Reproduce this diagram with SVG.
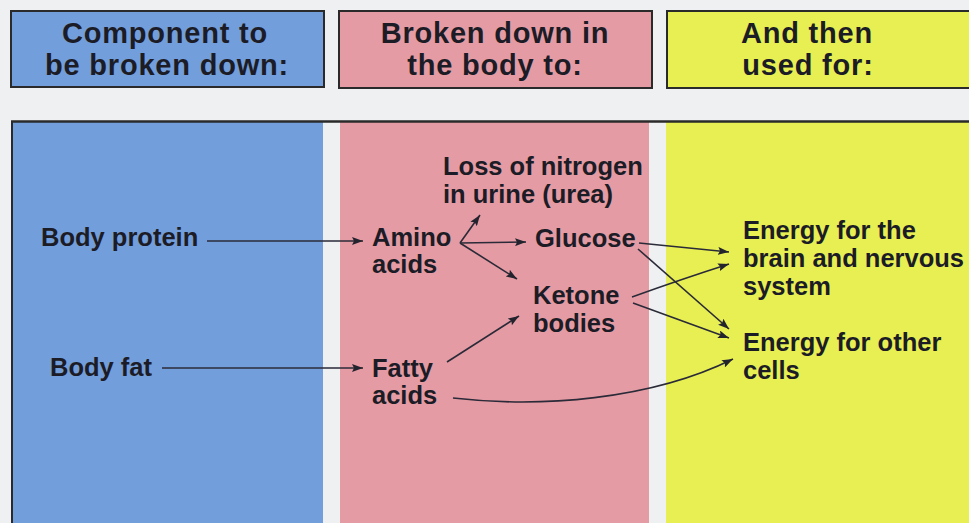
<svg xmlns="http://www.w3.org/2000/svg" width="969" height="523" viewBox="0 0 969 523">
  <defs>
    <marker id="ah" markerWidth="11" markerHeight="8" refX="11" refY="4" orient="auto" markerUnits="userSpaceOnUse">
      <path d="M0,0 L11,4 L0,8 L2,4 z" fill="#23232e"/>
    </marker>
    <style>
      .hdr { stroke: #2a2a2a; stroke-width: 2; }
      .blue { fill: #739edc; }
      .pink { fill: #e59ba4; }
      .yellow { fill: #e7ef52; }
      .ht { font-family: "Liberation Sans", Arial, sans-serif; font-weight: bold; font-size: 29px; letter-spacing: 0.8px; fill: #1c1c26; text-anchor: middle; }
      .t { font-family: "Liberation Sans", Arial, sans-serif; font-weight: bold; font-size: 25.5px; fill: #1c1c26; }
      .c { fill: none; stroke: #2a2a38; stroke-width: 1.6; marker-end: url(#ah); }
    </style>
  </defs>

  <rect x="0" y="0" width="969" height="523" fill="#eff0f1"/>

  <!-- headers -->
  <g id="header-component">
    <rect class="hdr blue" x="11" y="11" width="313" height="76"/>
    <text class="ht" x="165" y="43">Component to</text>
    <text class="ht" x="167" y="75">be broken down:</text>
  </g>
  <g id="header-broken">
    <rect class="hdr pink" x="339" y="11" width="313" height="77"/>
    <text class="ht" x="495" y="43">Broken down in</text>
    <text class="ht" x="495" y="75">the body to:</text>
  </g>
  <g id="header-used">
    <rect class="hdr yellow" x="667" y="11" width="310" height="77"/>
    <text class="ht" x="807" y="43">And then</text>
    <text class="ht" x="808" y="75">used for:</text>
  </g>

  <!-- panels -->
  <rect class="blue" x="12" y="122" width="311" height="401"/>
  <rect class="pink" x="340" y="122" width="309" height="401"/>
  <rect class="yellow" x="666" y="122" width="303" height="401"/>
  <line x1="11" y1="121.5" x2="969" y2="121.5" stroke="#2a2a2a" stroke-width="2.5"/>
  <line x1="12" y1="121" x2="12" y2="523" stroke="#2a2a2a" stroke-width="2"/>

  <!-- nodes -->
  <g id="body-protein"><text class="t" x="41" y="246">Body protein</text></g>
  <g id="body-fat"><text class="t" x="50" y="376">Body fat</text></g>
  <g id="amino-acids">
    <text class="t" x="372" y="246">Amino</text>
    <text class="t" x="372" y="273">acids</text>
  </g>
  <g id="fatty-acids">
    <text class="t" x="372" y="377">Fatty</text>
    <text class="t" x="372" y="404">acids</text>
  </g>
  <g id="loss-nitrogen">
    <text class="t" x="443" y="175">Loss of nitrogen</text>
    <text class="t" x="443" y="203">in urine (urea)</text>
  </g>
  <g id="glucose"><text class="t" x="535" y="247">Glucose</text></g>
  <g id="ketone-bodies">
    <text class="t" x="533" y="304">Ketone</text>
    <text class="t" x="533" y="332">bodies</text>
  </g>
  <g id="energy-brain">
    <text class="t" x="743" y="239">Energy for the</text>
    <text class="t" x="743" y="267">brain and nervous</text>
    <text class="t" x="743" y="295">system</text>
  </g>
  <g id="energy-other">
    <text class="t" x="743" y="351">Energy for other</text>
    <text class="t" x="743" y="379">cells</text>
  </g>

  <!-- connectors -->
  <g id="connectors">
    <path class="c" d="M207 241 L363 241"/>
    <path class="c" d="M162 368 L363 368"/>
    <path class="c" d="M460 243 L480 215"/>
    <path class="c" d="M460 243 L526 242"/>
    <path class="c" d="M460 243 L517 279"/>
    <path class="c" d="M447 362 L519 316"/>
    <path class="c" d="M639 243 L729 252"/>
    <path class="c" d="M638 249 L729 329"/>
    <path class="c" d="M632 297 Q682 279 729 264"/>
    <path class="c" d="M633 303 L729 338"/>
    <path class="c" d="M453 398 C540 408 650 400 733 359"/>
  </g>
</svg>
